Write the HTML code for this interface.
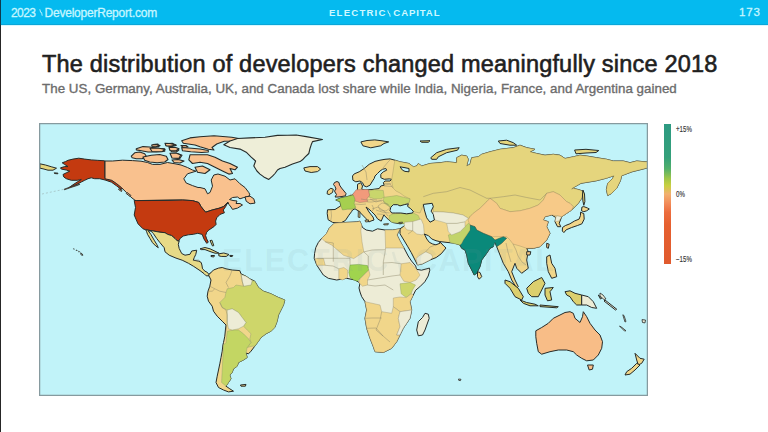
<!DOCTYPE html>
<html><head><meta charset="utf-8">
<style>
html,body{margin:0;padding:0;}
body{width:768px;height:432px;overflow:hidden;background:#fff;position:relative;font-family:"Liberation Sans",sans-serif;}
#hdr{position:absolute;left:0;top:0;width:768px;height:25px;background:linear-gradient(#05baef 0,#05baef 24px,#0aa6d8 24px,#0aa6d8 25px);box-shadow:0 1px 0 #d6f7ff;}
#hdr .l{position:absolute;left:11px;top:5.5px;font-size:12px;letter-spacing:-0.6px;-webkit-text-stroke:0.3px #c6f6ff;color:#c6f6ff;white-space:nowrap;}
#hdr .l2{position:absolute;left:44.5px;top:5.5px;font-size:12px;letter-spacing:-0.22px;-webkit-text-stroke:0.3px #c6f6ff;color:#c6f6ff;white-space:nowrap;}
#hdr .c{position:absolute;left:329px;top:7.4px;font-size:9.6px;font-weight:bold;letter-spacing:1.2px;color:#d0f8ff;white-space:nowrap;}
#hdr .c2{position:absolute;left:393.3px;top:7.4px;font-size:9.6px;font-weight:bold;letter-spacing:0.9px;color:#d0f8ff;white-space:nowrap;}
#hdr .r{position:absolute;left:739px;top:5.5px;font-size:11.5px;letter-spacing:0.8px;-webkit-text-stroke:0.3px #c6f6ff;color:#c6f6ff;}
#title{position:absolute;left:42px;top:51px;font-size:23.5px;letter-spacing:0.19px;font-weight:normal;-webkit-text-stroke:0.6px #1f1f1f;color:#1f1f1f;white-space:nowrap;}
#sub{position:absolute;left:42px;top:80.5px;font-size:13.35px;letter-spacing:0.03px;-webkit-text-stroke:0.35px #6c6c6c;color:#6c6c6c;white-space:nowrap;}
#map{position:absolute;left:39px;top:123px;width:609px;height:273px;}
#cbar{position:absolute;left:664px;top:124px;width:7px;height:140px;background:linear-gradient(#2d9a82 0%,#34a07a 24%,#52b06a 32%,#a0c648 39%,#c8d040 44%,#f2b070 50%,#f28a58 57%,#ec6d3e 63%,#e6602f 72%,#e05a2e 100%);}
.lab{position:absolute;left:676px;font-size:8.5px;line-height:9px;color:#333;-webkit-text-stroke:0.15px #333;white-space:nowrap;transform:scaleX(0.72);transform-origin:0 0;}
</style></head>
<body>
<div id="hdr"><span class="l">2023</span><svg class="bolt" style="position:absolute;left:38.5px;top:9px" width="4" height="7" viewBox="0 0 4 7"><path d="M0.8,0.3 L1.6,3.3 L2.6,3.5 L3.2,6.7" fill="none" stroke="#c6f6ff" stroke-width="0.9"/></svg><span class="l2">DeveloperReport.com</span><span class="c">ELECTRIC</span><svg style="position:absolute;left:386.5px;top:10px" width="4" height="7" viewBox="0 0 4 7"><path d="M0.8,0.3 L1.6,3.3 L2.6,3.5 L3.2,6.7" fill="none" stroke="#c6f6ff" stroke-width="1"/></svg><span class="c2">CAPITAL</span><span class="r">173</span></div>
<div id="title">The distribution of developers changed meaningfully since 2018</div>
<div id="sub">The US, Germany, Australia, UK, and Canada lost share while India, Nigeria, France, and Argentina gained</div>
<svg id="map" width="609" height="273" viewBox="39 123 609 273">
<defs><clipPath id="cp"><rect x="40" y="124" width="607" height="271"/></clipPath></defs>
<rect x="39" y="123" width="609" height="273" fill="#c1f3f9"/>
<g clip-path="url(#cp)" stroke-linejoin="round">
<path d="M68.0,160.3 73.0,159.1 78.8,158.2 84.7,159.1 91.3,159.9 97.2,160.3 104.7,160.8 105.1,178.2 111.7,179.8 116.7,183.0 121.0,186.8 122.5,188.8 121.0,189.2 116.5,185.8 111.5,182.2 105.1,180.0 99.7,178.7 94.7,178.7 91.3,177.8 88.0,178.7 84.7,180.3 81.3,182.0 78.0,183.7 74.7,185.3 70.5,187.0 68.8,187.8 72.2,185.3 77.2,182.0 81.3,179.5 77.2,180.3 71.3,180.3 66.3,178.7 63.8,177.0 63.0,174.5 66.3,172.8 69.7,171.2 66.3,170.0 61.3,169.1 60.5,167.8 64.7,166.6 68.0,166.6 64.7,164.5 62.2,162.8 65.5,161.6Z" fill="#c43a10" stroke="#262b29" stroke-width="1.0"/>
<path d="M39.9,163.8 45.5,165.0 51.8,166.9 56.5,168.2 53.0,170.2 48.0,170.2 43.0,168.8 39.9,168.2Z" fill="#e5d57d" stroke="#262b29" stroke-width="1.0"/>
<path d="M54.2,172.8 58.0,173.2 57.8,173.8 54.5,173.5Z" fill="#e5d57d" stroke="#262b29" stroke-width="1.0"/>
<path d="M131.3,156.2 134.7,152.8 139.7,152.0 144.7,153.7 146.3,156.2 142.2,158.7 136.3,158.7 132.2,157.8Z" fill="#f9c18e" stroke="#262b29" stroke-width="1.1"/>
<path d="M143.0,157.0 151.3,155.3 159.7,154.5 166.3,156.2 168.0,159.5 164.7,162.0 157.2,162.8 149.7,162.0 144.7,160.3Z" fill="#f9c18e" stroke="#262b29" stroke-width="1.1"/>
<path d="M136.3,148.7 143.0,146.6 149.7,147.0 156.3,148.3 164.7,148.7 164.7,151.2 156.3,152.0 148.0,152.0 141.3,150.8 136.3,149.9Z" fill="#f9c18e" stroke="#262b29" stroke-width="1.1"/>
<path d="M153.0,144.5 158.0,144.1 158.8,146.6 153.8,147.0Z" fill="#f9c18e" stroke="#262b29" stroke-width="1.1"/>
<path d="M165.5,143.7 172.2,143.2 176.3,145.3 171.3,146.6 166.3,145.8Z" fill="#f9c18e" stroke="#262b29" stroke-width="1.1"/>
<path d="M169.7,148.7 175.5,148.2 178.8,150.0 176.3,152.0 171.3,151.6Z" fill="#f9c18e" stroke="#262b29" stroke-width="1.1"/>
<path d="M171.3,154.5 178.0,153.7 182.0,155.3 179.7,158.7 173.0,157.8Z" fill="#f9c18e" stroke="#262b29" stroke-width="1.1"/>
<path d="M172.0,160.0 178.0,159.5 184.0,161.0 180.0,163.0 174.0,162.5Z" fill="#f9c18e" stroke="#262b29" stroke-width="1.1"/>
<path d="M151.7,145.0 156.0,144.5 160.0,145.6 156.0,146.8 152.0,146.5Z" fill="#f9c18e" stroke="#262b29" stroke-width="1.1"/>
<path d="M165.0,143.3 170.0,143.5 175.8,145.0 171.0,146.0 166.0,145.8Z" fill="#f9c18e" stroke="#262b29" stroke-width="1.1"/>
<path d="M169.0,147.5 175.0,147.3 179.0,148.8 176.0,150.8 170.0,150.5Z" fill="#f9c18e" stroke="#262b29" stroke-width="1.1"/>
<path d="M170.0,153.3 176.0,153.0 180.8,155.0 179.0,158.3 172.0,158.0Z" fill="#f9c18e" stroke="#262b29" stroke-width="1.1"/>
<path d="M150.0,148.3 158.0,148.0 165.0,149.5 162.0,151.7 152.0,151.5Z" fill="#f9c18e" stroke="#262b29" stroke-width="1.1"/>
<path d="M181.0,145.5 186.0,145.5 188.0,147.0 183.0,147.2Z" fill="#f9c18e" stroke="#262b29" stroke-width="1.1"/>
<path d="M181.7,140.8 190.0,137.9 200.0,136.7 214.0,135.8 231.7,137.2 238.8,138.5 232.5,141.0 224.2,141.3 216.7,144.0 212.0,147.5 214.0,150.0 208.3,149.2 200.0,146.7 195.0,145.0 183.3,143.3Z" fill="#f9c18e" stroke="#262b29" stroke-width="1.1"/>
<path d="M181.7,147.5 191.7,148.3 200.0,149.0 208.3,150.5 208.3,152.0 201.7,152.5 190.8,151.7 182.5,150.8Z" fill="#f9c18e" stroke="#262b29" stroke-width="1.1"/>
<path d="M190.0,154.8 200.0,154.8 207.5,154.8 215.0,157.2 222.5,161.0 230.0,163.5 237.5,167.2 235.0,169.8 230.0,168.5 232.5,173.5 228.8,174.1 222.5,171.0 217.5,168.5 212.5,166.0 207.5,163.5 200.0,162.2 192.5,163.5 188.8,159.8Z" fill="#f9c18e" stroke="#262b29" stroke-width="1.1"/>
<path d="M195.0,167.2 202.5,166.0 210.0,169.8 205.0,173.5 197.5,172.2Z" fill="#f9c18e" stroke="#262b29" stroke-width="1.1"/>
<path d="M237.5,138.5 250.0,137.9 265.0,137.2 277.5,135.4 287.5,135.2 296.2,135.0 306.2,136.6 322.5,139.5 312.5,141.6 311.2,144.8 310.0,148.5 308.8,153.5 305.0,157.2 302.5,159.8 300.0,161.6 292.5,164.1 285.0,167.2 280.0,168.5 277.5,170.0 275.0,173.5 272.5,176.2 268.8,179.4 263.8,176.9 260.0,174.1 256.9,171.0 253.8,166.0 255.6,161.0 251.2,157.2 246.2,152.2 240.0,149.1 230.0,147.5 223.8,144.8 230.0,141.0Z" fill="#eeeed8" stroke="#262b29" stroke-width="1.1"/>
<path d="M303.8,167.9 310.0,166.6 317.5,166.6 320.6,169.1 317.5,171.6 311.2,172.5 305.0,171.0Z" fill="#f1d68a" stroke="#262b29" stroke-width="1.0"/>
<path d="M360.9,141.9 367.0,140.5 374.8,139.9 382.0,140.8 388.7,141.9 384.0,143.5 380.7,145.8 370.8,147.8 362.9,145.8Z" fill="#f1d68a" stroke="#262b29" stroke-width="1.0"/>
<path d="M105.0,161.0 112.5,161.0 122.5,160.2 132.5,160.6 141.0,161.2 147.5,162.5 152.5,164.4 160.0,164.4 167.5,162.5 175.0,163.8 181.0,165.0 187.5,167.5 192.5,170.0 196.0,171.2 187.5,173.8 183.8,178.8 186.2,183.0 192.5,185.6 198.0,187.5 200.0,187.5 205.0,188.8 207.5,193.8 210.0,192.5 212.5,186.2 211.2,180.0 213.8,175.0 218.0,174.0 225.0,176.2 230.0,180.0 235.0,178.8 240.0,183.8 245.0,187.5 248.8,192.5 250.0,195.0 247.5,197.0 243.8,197.5 240.0,198.8 237.5,197.0 232.5,197.5 229.5,199.5 233.0,200.5 237.0,201.0 236.0,203.5 240.0,203.5 242.5,205.0 237.5,208.1 232.5,209.4 231.0,207.0 229.0,204.5 227.8,202.2 223.3,206.7 218.9,208.3 212.2,210.0 205.6,212.2 201.1,206.7 198.8,202.5 192.5,200.6 182.5,200.0 170.0,200.0 136.2,200.6 135.0,200.3 130.8,197.0 126.7,192.8 121.7,187.8 116.7,183.7 111.7,180.3 105.0,178.8Z" fill="#f9c18e" stroke="#262b29" stroke-width="1.0"/>
<path d="M245.0,196.9 250.0,196.2 253.8,198.8 255.0,203.1 250.0,203.8 246.2,201.2Z" fill="#f9c18e" stroke="#262b29" stroke-width="1.0"/>
<path d="M134.2,200.4 136.2,200.6 170.0,200.4 182.5,200.0 192.5,200.6 198.8,202.5 201.1,206.7 205.6,212.2 212.2,210.0 218.9,208.3 223.3,206.7 227.8,203.3 227.8,202.2 225.6,206.7 223.3,210.0 224.4,212.8 220.0,214.4 216.7,217.8 215.6,221.1 216.1,224.4 213.9,226.7 208.9,230.0 206.7,232.2 205.6,235.6 206.7,238.9 208.3,242.2 206.7,243.3 203.9,238.9 202.2,234.4 197.8,233.3 193.3,234.3 188.3,234.8 183.3,236.0 180.0,238.5 179.2,240.6 177.5,241.0 175.0,238.5 171.7,235.6 167.5,234.3 165.0,232.7 160.0,232.2 153.3,231.0 145.8,229.8 143.0,228.8 138.0,223.8 134.2,215.0 135.5,207.5Z" fill="#c43a10" stroke="#262b29" stroke-width="1.0"/>
<path d="M127.0,192.5 131.0,195.5 130.3,196.6 126.2,193.5Z" fill="#f9c18e" stroke="#262b29" stroke-width="0.9"/>
<path d="M119.0,188.5 122.0,190.5 121.5,191.5 118.5,189.5Z" fill="#f9c18e" stroke="#262b29" stroke-width="0.9"/>
<path d="M145.8,229.8 153.3,231.0 160.0,232.2 165.0,232.7 167.5,234.3 171.7,235.6 175.0,238.5 177.5,241.0 179.2,241.0 178.3,244.3 179.2,248.5 181.7,253.5 185.0,255.2 190.0,254.3 191.7,251.0 196.7,250.2 195.8,254.3 194.2,257.7 193.3,260.2 198.8,261.2 201.2,262.5 201.9,265.0 202.5,268.8 205.0,271.2 207.5,272.5 208.8,274.4 210.6,273.1 213.1,272.2 215.0,271.5 215.6,274.4 211.9,276.5 210.4,275.8 206.2,275.8 204.1,273.7 200.0,270.6 193.7,266.4 188.5,263.3 182.2,260.2 176.0,258.1 169.2,255.2 165.0,251.8 164.2,247.7 160.0,242.7 156.7,238.5 153.3,233.5 150.8,231.0 148.3,231.0 150.8,234.3 154.2,240.2 156.7,244.3 158.3,247.7 155.8,246.0 152.5,242.7 150.0,238.5 147.5,234.3 146.7,231.8Z" fill="#e7da87" stroke="#262b29" stroke-width="1.0"/>
<path d="M200.0,248.8 205.0,247.5 210.0,248.8 215.0,251.2 219.0,253.2 215.0,253.2 210.0,251.5 205.0,249.6 201.2,249.6Z" fill="#e7da87" stroke="#262b29" stroke-width="1.0"/>
<path d="M218.8,253.8 223.8,253.0 229.0,254.5 226.2,256.5 221.2,256.4 218.8,255.8Z" fill="#e7da87" stroke="#262b29" stroke-width="1.0"/>
<path d="M211.0,255.5 214.5,255.5 213.8,257.0 211.0,256.5Z" fill="#e7da87" stroke="#262b29" stroke-width="1.0"/>
<path d="M229.8,255.4 232.8,255.5 232.2,256.6 230.0,256.4Z" fill="#e7da87" stroke="#262b29" stroke-width="1.0"/>
<path d="M210.0,240.6 211.9,240.2 213.8,245.6 212.5,246.0Z" fill="#e7da87" stroke="#262b29" stroke-width="1.0"/>
<path d="M208.5,275.0 213.5,270.0 218.5,268.1 222.2,267.5 226.0,268.8 232.2,270.0 239.8,270.6 241.0,273.8 246.0,276.2 249.8,278.8 254.8,281.2 258.5,287.5 263.5,291.2 271.0,293.8 278.5,297.5 284.8,300.0 283.5,305.0 281.0,310.0 278.5,315.0 277.2,321.2 274.8,327.5 271.0,331.2 266.0,333.8 261.0,337.5 258.5,341.2 254.8,346.2 251.0,351.2 248.5,353.8 246.0,353.1 247.2,357.5 243.5,360.0 238.5,362.5 237.2,366.2 233.5,368.8 232.2,372.5 229.8,375.0 231.0,378.8 228.5,382.5 226.0,386.2 229.8,388.8 233.5,391.2 228.5,391.9 223.5,390.0 218.5,387.5 216.0,382.5 217.2,376.2 218.5,370.0 219.8,363.8 221.0,357.5 222.2,351.2 222.9,345.0 223.5,342.5 224.8,336.2 225.4,330.0 226.0,325.0 222.2,321.2 217.2,316.2 213.5,311.2 212.2,306.2 208.5,301.2 207.2,296.2 208.0,291.2 209.8,286.2 211.0,280.0Z" fill="#f1d68a" stroke="#262b29" stroke-width="1.0"/>
<path d="M252.2,280.6 251.0,285.0 243.5,286.2 236.0,285.0 233.5,287.5 227.2,288.8 226.0,292.5 224.8,297.5 219.8,302.5 222.2,307.5 227.2,310.0 232.2,308.8 238.5,312.5 242.2,317.5 246.0,322.5 243.5,326.2 247.2,330.0 251.0,333.8 249.8,338.8 251.0,342.5 247.2,347.5 252.2,346.2 254.8,346.2 258.5,341.2 261.0,337.5 266.0,333.8 271.0,331.2 274.8,327.5 277.2,321.2 278.5,315.0 281.0,310.0 283.5,305.0 284.8,300.0 278.5,297.5 271.0,293.8 263.5,291.2 258.5,287.5 254.8,281.2Z" fill="#ced66a" stroke="#8a9a6a" stroke-width="0.4"/>
<path d="M227.2,331.2 233.5,330.0 238.5,330.0 243.5,333.8 248.5,338.8 251.0,342.5 247.2,347.5 246.0,353.1 247.2,357.5 243.5,360.0 238.5,362.5 237.2,366.2 233.5,368.8 232.2,372.5 229.8,375.0 231.0,378.8 228.5,382.5 226.0,386.2 221.6,382.5 222.2,370.0 222.9,357.5 223.5,345.0 226.0,342.5Z" fill="#c3d663" stroke="#8a9a6a" stroke-width="0.4"/>
<path d="M227.2,310.0 232.2,308.8 238.5,312.5 242.2,317.5 246.0,322.5 243.5,326.2 238.5,328.8 232.2,330.0 228.5,328.8 227.2,322.5 227.2,315.0Z" fill="#edecd6" stroke="#8a9a6a" stroke-width="0.4"/>
<path d="M241.0,274.5 246.0,276.2 252.2,280.6 251.0,285.0 243.5,286.2 242.2,281.2Z" fill="#edecd6" stroke="#8a9a6a" stroke-width="0.4"/>
<path d="M240.4,385.0 246.0,384.4 245.4,386.2 241.0,386.2Z" fill="#f1d68a" stroke="#262b29" stroke-width="1.0"/>
<path d="M328.1,219.7 327.2,213.4 327.5,209.8 335.0,209.5 340.8,205.8 340.0,201.7 335.8,200.0 340.8,197.9 345.0,197.1 350.0,195.8 352.5,195.0 356.7,190.8 357.5,189.3 357.5,184.3 360.8,182.7 362.5,186.0 361.7,189.3 365.0,190.0 372.0,189.5 379.2,188.5 380.8,186.0 384.2,185.2 383.3,182.7 385.0,181.0 390.0,181.0 391.7,179.3 389.2,178.9 384.2,179.3 380.8,177.7 380.8,174.3 383.3,171.8 386.7,170.2 385.8,168.5 382.5,169.3 380.0,171.0 377.5,173.5 375.0,176.0 374.2,178.5 372.5,181.0 370.0,185.2 366.7,186.8 364.2,186.0 362.5,182.7 360.0,181.0 355.8,181.8 352.9,180.2 352.5,176.0 354.2,173.9 359.2,171.8 364.2,168.5 369.2,164.3 375.0,161.4 380.0,160.2 385.0,159.3 390.0,158.9 395.0,160.2 400.0,161.8 405.0,162.7 409.0,163.5 413.3,166.8 416.7,166.0 418.3,163.5 421.7,166.0 430.0,163.5 440.0,162.7 446.7,161.8 456.7,162.7 456.7,157.7 461.7,155.2 466.7,156.0 468.3,159.3 466.7,166.0 470.0,164.3 471.7,157.7 478.3,156.8 481.7,154.3 490.0,151.8 500.0,149.3 513.3,147.7 520.0,145.2 526.7,147.7 535.0,149.3 530.0,151.8 536.7,153.5 545.0,155.2 553.3,154.3 560.0,155.2 565.0,158.5 573.3,156.8 580.0,155.2 586.7,156.0 596.7,157.7 606.7,159.3 613.3,161.0 623.3,161.0 630.0,162.7 636.7,161.0 645.0,161.8 653.0,161.8 653.0,167.5 647.0,168.0 642.0,169.3 632.0,171.8 621.7,175.7 620.4,180.8 616.6,188.4 611.5,193.5 607.7,195.5 606.4,189.7 607.7,183.3 612.8,178.2 614.0,175.7 606.4,178.2 596.2,180.8 581.0,183.3 572.0,188.4 571.7,189.3 573.3,188.3 580.0,190.0 583.3,191.7 581.7,198.3 578.3,203.3 571.7,210.0 566.7,213.3 561.7,216.7 559.2,223.3 560.8,226.7 557.5,226.7 555.0,221.7 555.8,217.5 551.7,215.0 545.0,216.7 543.3,220.0 548.3,221.7 546.7,226.7 550.0,233.3 546.7,240.0 540.0,246.7 533.3,248.3 526.7,248.3 528.3,251.7 526.7,260.0 528.3,268.3 521.7,273.3 516.7,268.3 515.0,263.3 511.7,271.7 515.0,280.0 518.3,286.7 516.7,288.3 511.7,280.0 508.3,271.7 503.3,263.3 500.0,255.0 496.7,246.7 495.0,242.5 490.0,241.7 493.3,246.7 490.0,248.3 486.7,253.3 481.7,260.0 480.0,266.7 476.7,273.3 474.2,275.0 471.7,270.0 468.3,263.3 466.7,255.0 465.0,250.0 461.7,248.3 460.0,245.0 454.3,243.2 446.0,242.3 439.3,241.5 441.0,243.0 443.8,246.0 446.0,248.0 441.2,253.8 436.2,257.5 430.0,260.0 422.5,263.8 417.5,265.0 415.0,260.0 411.2,252.5 407.5,246.2 403.8,240.0 400.0,233.8 400.0,228.8 403.8,226.2 407.5,222.5 400.0,223.8 392.5,222.5 388.8,220.0 383.8,215.0 381.2,221.2 377.5,218.8 375.0,215.0 370.0,210.0 366.0,207.0 369.0,212.0 373.0,217.0 374.0,220.0 371.0,221.0 368.8,222.0 366.2,218.8 362.5,215.0 358.8,211.2 355.0,208.8 352.5,210.0 351.6,211.6 348.9,215.2 345.3,220.6 339.9,223.3 332.6,222.4Z" fill="#f1d68a" stroke="#262b29" stroke-width="1.0"/>
<path d="M395.0,160.2 400.0,161.8 405.0,162.7 409.0,163.5 413.3,166.8 416.7,166.0 418.3,163.5 421.7,166.0 430.0,163.5 440.0,162.7 446.7,161.8 456.7,162.7 456.7,157.7 461.7,155.2 466.7,156.0 468.3,159.3 466.7,166.0 470.0,164.3 471.7,157.7 478.3,156.8 481.7,154.3 490.0,151.8 500.0,149.3 513.3,147.7 520.0,145.2 526.7,147.7 535.0,149.3 530.0,151.8 536.7,153.5 545.0,155.2 553.3,154.3 560.0,155.2 565.0,158.5 573.3,156.8 580.0,155.2 586.7,156.0 596.7,157.7 606.7,159.3 613.3,161.0 623.3,161.0 630.0,162.7 636.7,161.0 645.0,161.8 653.0,161.8 653.0,167.5 647.0,168.0 642.0,169.3 632.0,171.8 621.7,175.7 620.4,180.8 616.6,188.4 611.5,193.5 607.7,195.5 606.4,189.7 607.7,183.3 612.8,178.2 614.0,175.7 606.4,178.2 596.2,180.8 581.0,183.3 572.0,188.4 571.7,189.3 573.3,188.3 580.0,190.0 583.3,191.7 581.7,198.3 578.3,203.3 571.7,210.0 566.7,213.3 561.7,216.7 566.7,213.3 571.7,210.0 573.3,206.7 570.0,203.3 566.7,201.7 560.0,195.0 553.3,191.7 546.7,193.3 543.3,200.0 538.3,205.0 530.0,208.3 520.0,210.8 510.0,211.7 500.0,208.3 496.7,203.3 490.0,198.3 486.7,201.7 480.0,208.3 473.3,213.3 470.0,216.7 468.3,218.3 463.0,215.0 453.3,213.0 443.3,212.0 433.3,211.7 433.3,208.3 431.7,203.3 423.3,205.0 420.0,213.0 415.0,212.0 413.3,211.3 410.8,208.8 407.5,206.3 408.3,203.8 409.2,202.2 410.0,198.8 408.0,198.0 404.0,196.0 400.0,193.0 396.0,191.0 393.0,188.0 392.0,183.0 391.7,179.3 393.0,172.0 394.0,165.0Z" fill="#e5d57d" stroke="#9a9060" stroke-width="0.4"/>
<path d="M470.0,216.7 473.3,213.3 480.0,208.3 486.7,201.7 490.0,198.3 496.7,203.3 500.0,208.3 510.0,211.7 520.0,210.8 530.0,208.3 538.3,205.0 543.3,200.0 546.7,193.3 553.3,191.7 560.0,195.0 566.7,201.7 570.0,203.3 573.3,206.7 571.7,210.0 566.7,213.3 561.7,216.7 556.7,215.8 551.7,215.0 545.0,216.7 543.3,220.0 548.3,221.7 546.7,226.7 550.0,233.3 546.7,240.0 540.0,246.7 533.3,248.3 526.7,248.3 520.0,246.0 513.0,244.0 510.0,240.0 506.7,236.7 503.3,236.7 500.0,236.7 491.7,236.7 483.3,233.3 476.7,230.0 475.0,226.7 470.0,225.0 468.0,220.0Z" fill="#f7ca88" stroke="#9a8a60" stroke-width="0.4"/>
<path d="M561.7,216.7 556.7,215.8 555.8,217.5 555.0,221.7 559.2,221.0 560.5,218.5Z" fill="#edecd6" stroke="#9a8a60" stroke-width="0.4"/>
<path d="M470.0,225.0 475.0,226.7 476.7,230.0 483.3,233.3 491.7,236.7 495.0,240.0 503.3,236.7 506.7,238.3 501.7,243.3 496.7,246.7 495.0,242.5 493.3,246.7 490.0,248.3 486.7,253.3 481.7,260.0 480.0,266.7 476.7,273.3 474.2,275.0 471.7,270.0 468.3,263.3 466.7,255.0 465.0,250.0 461.7,248.3 460.0,245.0 461.7,243.3 463.3,240.0 466.7,235.0 470.0,230.0Z" fill="#0a897a" stroke="#2a4a40" stroke-width="0.5"/>
<path d="M448.3,235.0 460.0,231.7 465.0,226.7 468.3,223.3 470.0,225.0 470.0,230.0 466.7,235.0 463.3,240.0 461.7,243.3 460.0,245.0 455.0,243.8 450.0,242.5Z" fill="#c2d46a" stroke="#8a9a60" stroke-width="0.4"/>
<path d="M446.7,223.3 456.7,223.3 465.0,221.7 465.0,226.7 460.0,231.7 451.7,235.0 448.3,231.7Z" fill="#edecd6" stroke="#9a9a80" stroke-width="0.4"/>
<path d="M433.3,211.7 443.3,212.0 453.3,213.0 463.0,215.0 468.3,218.3 465.0,221.7 456.7,223.3 446.7,223.3 441.7,221.7 435.0,220.0 432.0,216.0Z" fill="#edecd6" stroke="#9a9a80" stroke-width="0.4"/>
<path d="M389.2,215.5 393.3,213.8 401.7,213.4 406.7,214.3 413.3,213.0 418.3,215.5 420.0,219.7 418.3,223.0 410.0,223.0 403.3,223.8 397.5,223.0 391.7,222.2 389.2,219.7Z" fill="#c4d56a" stroke="#8a9a60" stroke-width="0.4"/>
<path d="M368.3,191.3 374.2,189.7 383.3,190.5 384.2,197.2 380.8,198.8 374.2,198.8 369.2,197.2Z" fill="#c9d66c" stroke="#8a9a60" stroke-width="0.4"/>
<path d="M384.2,197.2 391.7,196.3 396.7,195.5 403.3,197.2 410.0,198.8 409.2,202.2 404.2,204.7 400.0,205.9 397.5,204.7 393.3,204.7 390.8,207.2 387.5,205.5 384.2,203.0 383.3,199.7Z" fill="#c6d66b" stroke="#8a9a60" stroke-width="0.4"/>
<path d="M352.5,194.4 356.1,189.8 361.5,189.6 368.3,189.5 369.6,195.3 366.9,198.9 367.8,201.6 359.7,202.5 354.3,200.7 353.4,197.1Z" fill="#f29a7b" stroke="#8a6a5a" stroke-width="0.4"/>
<path d="M335.8,200.0 340.8,197.9 345.0,197.1 350.0,195.8 353.3,195.0 355.0,199.2 354.2,203.3 355.8,207.5 351.7,209.2 347.5,209.2 342.5,210.0 340.8,205.8 340.0,201.7Z" fill="#a6cf4f" stroke="#6a8a50" stroke-width="0.4"/>
<path d="M390.8,207.2 393.3,204.7 397.5,204.7 400.0,205.9 404.2,204.7 408.3,203.8 407.5,206.3 410.8,208.8 413.3,211.3 412.5,213.0 406.7,213.8 400.8,213.0 395.8,213.0 391.7,213.0 390.0,210.5Z" fill="#c1f3f9" stroke="#262b29" stroke-width="1.0"/>
<path d="M423.3,204.4 432.2,203.3 433.3,206.7 431.1,211.1 433.3,214.4 434.4,220.0 430.0,222.2 426.7,217.8 424.4,210.0Z" fill="#c1f3f9" stroke="#262b29" stroke-width="1.0"/>
<path d="M404.3,222.3 412.7,221.5 421.0,219.0 423.5,224.8 424.3,234.0 421.8,234.8 416.8,234.0 412.7,230.7 406.8,229.8 404.3,226.5Z" fill="#edecd6" stroke="#9a9070" stroke-width="0.4"/>
<path d="M417.5,265.0 422.5,263.8 430.0,260.0 432.8,257.2 431.4,254.4 425.8,251.7 418.9,255.8 416.1,258.6Z" fill="#edecd6" stroke="#9a9070" stroke-width="0.4"/>
<path d="M424.3,234.0 428.5,235.7 431.8,239.0 436.0,240.7 439.3,241.5 440.0,243.2 436.0,244.8 432.7,244.0 429.3,242.3 426.8,239.0Z" fill="#c1f3f9" stroke="#262b29" stroke-width="1.0"/>
<path d="M400.0,166.8 405.0,167.7 409.0,168.5 409.0,171.8 405.0,171.4 402.5,170.2Z" fill="#c1f3f9" stroke="#262b29" stroke-width="1.0"/>
<path d="M334.5,182.5 337.0,181.5 339.0,182.5 339.5,185.0 341.5,188.0 344.0,191.0 346.0,193.5 345.5,195.8 342.0,196.5 338.0,197.0 335.0,197.0 336.5,194.5 335.5,193.0 334.5,191.0 336.0,189.0 335.0,186.5 333.5,184.5Z" fill="#f5b78a" stroke="#262b29" stroke-width="1.0"/>
<path d="M327.5,190.8 330.8,188.3 333.3,189.2 332.5,192.5 329.2,194.6 327.1,193.8Z" fill="#f1d68a" stroke="#262b29" stroke-width="1.0"/>
<path d="M334.2,223.3 343.8,222.5 356.2,221.9 360.0,221.2 362.5,227.5 366.2,230.0 372.5,231.2 377.5,228.8 385.0,230.0 392.5,230.0 400.0,228.8 397.0,235.0 400.0,241.0 404.0,248.0 408.2,256.0 411.5,261.0 415.7,266.0 416.5,269.3 421.5,270.2 429.4,268.1 429.8,270.2 428.2,276.0 424.8,281.8 419.8,286.8 415.7,290.2 413.3,295.0 410.0,301.7 411.7,310.0 410.0,318.3 406.7,323.3 403.3,328.3 400.0,335.0 396.7,341.7 391.7,348.3 383.3,352.5 375.0,351.7 373.3,346.7 370.0,338.3 366.7,328.3 365.0,318.3 366.7,310.0 365.0,301.7 361.7,296.7 360.0,292.0 359.0,288.0 360.0,283.0 355.0,280.0 346.7,278.3 336.7,280.0 328.3,278.3 323.3,275.0 320.0,270.0 316.7,265.0 314.2,258.3 314.6,253.3 315.8,247.5 318.3,242.5 321.7,238.3 326.7,233.3 329.2,228.3Z" fill="#edecd6" stroke="#262b29" stroke-width="1.0"/>
<path d="M334.2,223.3 343.8,222.5 356.2,221.9 360.0,221.2 361.7,225.0 360.8,230.8 362.0,241.8 363.8,251.9 353.7,258.6 343.6,255.3 331.9,245.2 325.2,241.8 321.7,238.3 326.7,233.3 329.2,228.3Z" fill="#f1d68a" stroke="#9a9070" stroke-width="0.4"/>
<path d="M315.1,258.6 323.5,258.6 325.2,265.3 316.8,265.3Z" fill="#f1d68a" stroke="#9a9070" stroke-width="0.4"/>
<path d="M385.0,230.0 392.5,230.0 400.0,228.8 397.0,235.0 400.0,241.0 404.0,248.0 401.2,248.0 385.6,248.0Z" fill="#f1d68a" stroke="#9a9070" stroke-width="0.4"/>
<path d="M401.2,263.8 410.0,262.5 416.2,268.8 420.0,275.0 416.2,280.0 410.0,282.5 403.8,281.2 400.0,275.0Z" fill="#f1d68a" stroke="#9a9070" stroke-width="0.4"/>
<path d="M400.0,283.8 410.0,282.5 415.5,285.0 412.5,290.0 411.2,293.8 406.2,297.5 401.2,293.8Z" fill="#ced66a" stroke="#8a9a60" stroke-width="0.4"/>
<path d="M400.0,297.0 406.2,297.5 411.2,293.8 413.3,295.0 410.0,301.7 411.7,310.0 400.0,311.7 393.3,306.7 393.3,298.0Z" fill="#f1d68a" stroke="#9a9070" stroke-width="0.4"/>
<path d="M365.0,301.7 380.0,305.0 381.7,311.7 391.7,313.3 393.3,306.7 400.0,311.7 398.3,318.3 400.0,326.7 396.7,335.0 400.0,335.0 396.7,341.7 391.7,348.3 383.3,352.5 375.0,351.7 373.3,346.7 370.0,338.3 366.7,328.3 365.0,318.3 366.7,310.0Z" fill="#f1d68a" stroke="#9a9070" stroke-width="0.4"/>
<path d="M400.0,311.7 411.7,310.0 410.0,318.3 406.7,323.3 403.3,328.3 400.0,335.0 396.7,335.0 400.0,326.7 398.3,318.3Z" fill="#edecd6" stroke="#9a9070" stroke-width="0.4"/>
<path d="M350.0,265.0 358.8,264.4 367.5,265.6 368.8,270.0 365.0,273.8 360.0,278.8 357.5,281.2 353.8,280.0 350.0,277.5 348.8,272.5Z" fill="#a0d44e" stroke="#5a8a40" stroke-width="0.4"/>
<path d="M360.0,278.8 365.0,273.8 368.8,270.0 370.0,275.0 367.5,280.0 367.5,285.0 362.5,286.2 358.8,282.5Z" fill="#f1d68a" stroke="#9a9070" stroke-width="0.4"/>
<path d="M338.8,268.8 343.8,267.5 347.5,270.0 347.5,277.5 342.5,280.0 338.8,278.8Z" fill="#f1d68a" stroke="#9a9070" stroke-width="0.4"/>
<path d="M425.0,313.3 428.3,314.2 429.2,318.3 425.0,330.0 422.5,335.0 418.3,335.8 416.7,330.0 418.3,321.7 422.5,317.5Z" fill="#edecd6" stroke="#262b29" stroke-width="1.0"/>
<path d="M535.8,330.8 541.7,327.5 548.3,323.3 553.3,318.3 560.0,315.0 565.0,312.5 570.0,311.7 573.3,313.3 575.0,318.3 580.0,322.5 582.5,316.7 583.3,311.7 586.7,316.7 590.0,323.3 595.0,330.0 600.0,335.0 602.5,341.7 601.7,348.3 598.3,355.0 593.3,360.0 586.7,360.8 581.7,358.3 576.7,355.0 573.3,351.7 566.7,350.0 558.3,350.0 550.0,351.7 541.7,354.2 538.3,351.7 536.7,343.3 535.8,336.7Z" fill="#f8bd87" stroke="#262b29" stroke-width="1.0"/>
<path d="M587.5,365.0 593.3,365.0 592.5,369.2 589.2,370.0Z" fill="#f8bd87" stroke="#262b29" stroke-width="1.0"/>
<path d="M635.0,353.3 640.0,358.3 644.2,359.2 641.7,363.3 638.3,365.0 636.7,360.0Z" fill="#f1d68a" stroke="#262b29" stroke-width="1.0"/>
<path d="M636.7,363.3 640.0,365.0 635.0,370.0 630.0,374.2 625.0,375.0 626.7,371.7 631.7,368.3Z" fill="#f1d68a" stroke="#262b29" stroke-width="1.0"/>
<path d="M565.0,291.7 570.0,290.8 575.0,293.3 581.7,295.0 581.7,305.0 576.7,305.0 573.3,301.7 570.0,296.7 566.7,295.0Z" fill="#dccf6e" stroke="#262b29" stroke-width="1.0"/>
<path d="M581.7,295.0 588.3,296.7 593.3,301.7 596.7,308.3 591.7,307.5 586.7,305.0 581.7,305.0Z" fill="#edecd6" stroke="#262b29" stroke-width="1.0"/>
<path d="M526.7,288.3 533.3,281.7 541.7,277.5 545.0,283.3 541.7,290.0 538.3,296.7 531.7,296.7 528.3,293.3Z" fill="#dccf6e" stroke="#262b29" stroke-width="1.0"/>
<path d="M545.0,288.3 553.3,287.5 550.0,291.7 551.7,300.0 547.5,300.8 545.0,295.0Z" fill="#dccf6e" stroke="#262b29" stroke-width="1.0"/>
<path d="M520.0,300.0 526.7,302.5 535.0,304.2 538.3,305.8 530.0,305.8 523.3,303.3Z" fill="#dccf6e" stroke="#262b29" stroke-width="1.0"/>
<path d="M540.0,305.0 558.3,306.7 556.7,307.8 540.0,306.6Z" fill="#dccf6e" stroke="#262b29" stroke-width="1.0"/>
<path d="M505.0,280.0 510.0,281.7 518.3,288.3 523.3,296.7 521.7,300.0 515.0,296.7 510.0,288.3 505.0,283.3Z" fill="#dccf6e" stroke="#262b29" stroke-width="1.0"/>
<path d="M546.7,256.7 550.0,255.0 551.7,263.3 555.0,268.3 556.7,276.7 551.7,278.3 548.3,271.7 546.7,263.3Z" fill="#f1d68a" stroke="#262b29" stroke-width="1.0"/>
<path d="M477.5,271.7 480.0,272.5 481.7,276.7 479.2,279.2 477.5,276.7Z" fill="#f1d68a" stroke="#262b29" stroke-width="1.0"/>
<path d="M526.7,251.7 530.8,251.7 530.0,255.0 526.7,255.0Z" fill="#f7ca88" stroke="#262b29" stroke-width="1.0"/>
<path d="M546.7,243.3 549.2,244.2 548.3,248.3 546.7,247.5Z" fill="#f7ca88" stroke="#262b29" stroke-width="1.0"/>
<path d="M581.9,207.1 583.8,206.6 587.5,208.0 589.3,209.0 586.6,210.8 583.8,211.7 581.5,210.8Z" fill="#f1d68a" stroke="#262b29" stroke-width="1.0"/>
<path d="M580.5,212.2 583.8,213.6 584.2,219.1 581.9,223.8 577.3,225.6 571.7,227.5 566.2,229.8 563.9,232.6 562.3,231.0 562.5,227.5 565.3,225.6 569.9,223.8 574.5,221.0 579.1,219.1 580.5,215.4Z" fill="#f1d68a" stroke="#262b29" stroke-width="1.0"/>
<path d="M582.9,190.0 584.5,194.0 584.9,201.6 583.8,205.3 582.9,201.0 582.5,195.0Z" fill="#e5d57d" stroke="#262b29" stroke-width="1.0"/>
<path d="M430.8,157.7 436.7,152.7 446.7,149.3 459.2,147.7 457.5,150.2 446.7,152.7 438.3,156.8 436.7,159.3 431.7,159.3Z" fill="#e5d57d" stroke="#262b29" stroke-width="1.0"/>
<path d="M420.0,141.0 430.0,140.7 428.3,142.3 421.7,142.3Z" fill="#e5d57d" stroke="#262b29" stroke-width="1.0"/>
<path d="M498.3,141.0 506.7,140.2 513.3,142.7 516.7,145.2 510.0,145.2 500.0,143.5Z" fill="#e5d57d" stroke="#262b29" stroke-width="1.0"/>
<path d="M574.6,150.0 586.0,149.3 598.8,150.5 596.0,152.5 586.0,153.0 576.0,153.8Z" fill="#e5d57d" stroke="#262b29" stroke-width="1.0"/>
<path d="M598.3,295.0 601.7,298.3 600.5,299.0Z" fill="#edecd6" stroke="#262b29" stroke-width="1.0"/>
<path d="M605.0,300.0 616.7,309.2 615.5,310.0 604.0,301.0Z" fill="#edecd6" stroke="#262b29" stroke-width="1.0"/>
<path d="M73.5,248.6 74.3,248.9 74.0,249.4Z" fill="#edecd6" stroke="#2f3835" stroke-width="0.7"/>
<path d="M76.0,250.0 77.2,250.4 76.6,251.0Z" fill="#edecd6" stroke="#2f3835" stroke-width="0.7"/>
<path d="M78.5,251.2 79.6,251.6 79.0,252.2Z" fill="#edecd6" stroke="#2f3835" stroke-width="0.7"/>
<path d="M80.6,252.8 82.4,254.0 82.8,255.4 81.2,255.0Z" fill="#edecd6" stroke="#2f3835" stroke-width="0.9"/>
<path d="M64.0,189.3 70.0,187.0 75.0,185.5 80.0,184.0 79.5,184.6 75.0,186.2 70.0,187.8 64.4,189.8Z" fill="#c43a10" stroke="#2f3835" stroke-width="0.8"/>
<path d="M622.8,314.8 624.0,315.5 626.0,321.5 625.0,322.0Z" fill="#edecd6" stroke="#262b29" stroke-width="0.8"/>
<path d="M619.5,326.0 622.0,327.5 626.0,330.8 624.5,331.0Z" fill="#edecd6" stroke="#262b29" stroke-width="0.8"/>
<path d="M642.0,319.6 645.5,320.0 645.0,322.9 642.5,322.5Z" fill="#edecd6" stroke="#262b29" stroke-width="0.8"/>
<path d="M600.0,293.0 603.0,295.0 606.0,299.0 604.0,299.5 600.0,296.0Z" fill="#edecd6" stroke="#262b29" stroke-width="0.8"/>
<path d="M458.5,379.0 461.0,379.3 460.5,380.6 458.8,380.4Z" fill="#edecd6" stroke="#262b29" stroke-width="0.8"/>
<path d="M358.3,211.0 359.8,211.5 360.0,217.5 358.2,217.2Z" fill="#f1d68a" stroke="#262b29" stroke-width="0.8"/>
<path d="M365.0,220.2 368.8,220.0 367.5,222.0 365.5,221.8Z" fill="#f1d68a" stroke="#262b29" stroke-width="0.8"/>
<path d="M383.5,224.0 388.5,223.6 388.0,224.8 384.0,224.9Z" fill="#f1d68a" stroke="#262b29" stroke-width="0.8"/>
<path d="M398.8,222.5 402.5,222.2 401.8,223.6 399.5,223.5Z" fill="#f1d68a" stroke="#262b29" stroke-width="0.8"/>
<path d="M232.2,270.0 229.8,276.2 226.0,282.5 228.5,287.5" fill="none" stroke="#8a8468" stroke-width="0.45"/>
<path d="M209.8,286.2 214.8,288.8 219.8,291.2 226.0,292.5" fill="none" stroke="#8a8468" stroke-width="0.45"/>
<path d="M208.0,291.2 212.2,291.2 214.8,288.8" fill="none" stroke="#8a8468" stroke-width="0.45"/>
<path d="M241.0,273.8 242.2,281.2 243.5,286.2" fill="none" stroke="#8a8468" stroke-width="0.45"/>
<path d="M219.8,302.5 222.2,307.5 226.0,310.0 227.2,315.0 227.2,322.5 226.0,331.2" fill="none" stroke="#8a8468" stroke-width="0.45"/>
<path d="M201.2,262.5 199.0,260.0 193.8,260.0" fill="none" stroke="#8a8468" stroke-width="0.45"/>
<path d="M325.2,241.8 333.3,243.0 333.3,261.7" fill="none" stroke="#8a8468" stroke-width="0.45"/>
<path d="M316.7,258.3 333.3,258.3 350.0,258.3 350.0,265.0" fill="none" stroke="#8a8468" stroke-width="0.45"/>
<path d="M363.8,251.9 368.3,256.0 368.3,268.0" fill="none" stroke="#8a8468" stroke-width="0.45"/>
<path d="M385.6,248.0 385.0,252.5 383.3,262.0 383.3,275.0" fill="none" stroke="#8a8468" stroke-width="0.45"/>
<path d="M363.8,251.9 372.0,250.0 385.0,249.7" fill="none" stroke="#8a8468" stroke-width="0.45"/>
<path d="M383.3,263.0 392.0,262.5 401.2,263.8" fill="none" stroke="#8a8468" stroke-width="0.45"/>
<path d="M367.5,280.0 380.0,278.0 392.0,276.0 400.0,275.0" fill="none" stroke="#8a8468" stroke-width="0.45"/>
<path d="M367.5,285.0 375.0,286.0 385.0,285.0 393.3,290.0" fill="none" stroke="#8a8468" stroke-width="0.45"/>
<path d="M325.2,265.3 333.0,266.0 338.8,268.8" fill="none" stroke="#8a8468" stroke-width="0.45"/>
<path d="M381.7,311.7 380.0,320.0 376.0,330.0 383.0,336.0 390.0,342.0" fill="none" stroke="#8a8468" stroke-width="0.45"/>
<path d="M366.7,328.3 376.0,328.0 383.0,336.0" fill="none" stroke="#8a8468" stroke-width="0.45"/>
<path d="M365.0,318.3 372.0,318.0 381.7,318.0" fill="none" stroke="#8a8468" stroke-width="0.45"/>
<path d="M423.3,196.7 433.3,193.3 446.7,191.7 460.0,187.5 470.0,190.0 480.0,195.0 486.7,198.3 490.0,198.3" fill="none" stroke="#8a8468" stroke-width="0.45"/>
<path d="M490.0,198.3 503.3,196.7 515.0,195.0 526.7,197.5 540.0,200.0 546.7,193.3" fill="none" stroke="#8a8468" stroke-width="0.45"/>
<path d="M506.0,243.0 508.0,252.0 511.0,262.0" fill="none" stroke="#8a8468" stroke-width="0.45"/>
<path d="M513.0,244.0 516.0,250.0 518.0,256.0 522.0,262.0 526.0,265.0" fill="none" stroke="#8a8468" stroke-width="0.45"/>
<path d="M362.0,165.0 366.0,172.0 367.0,180.0" fill="none" stroke="#8a8468" stroke-width="0.45"/>
<path d="M383.0,168.0 388.0,162.0 391.0,159.0" fill="none" stroke="#8a8468" stroke-width="0.45"/>
<path d="M331.0,210.0 331.5,216.0 330.5,222.0" fill="none" stroke="#8a8468" stroke-width="0.45"/>
<path d="M425.8,251.7 430.0,247.0 436.0,244.8" fill="none" stroke="#8a8468" stroke-width="0.45"/>
<path d="M412.7,221.5 412.7,230.7 408.0,234.0" fill="none" stroke="#8a8468" stroke-width="0.45"/>
<path d="M384.2,185.2 390.0,184.0 393.0,188.0" fill="none" stroke="#8a8468" stroke-width="0.45"/>
<path d="M370.0,199.0 376.0,202.0 382.0,200.0 388.0,205.0" fill="none" stroke="#8a8468" stroke-width="0.45"/>
<path d="M372.0,209.0 378.0,207.0 384.0,211.0 388.0,216.0" fill="none" stroke="#8a8468" stroke-width="0.45"/>
<path d="M361.0,199.0 367.0,200.0 372.0,199.5 377.0,200.0" fill="none" stroke="#8a8468" stroke-width="0.45"/>
<path d="M367.5,202.0 372.0,202.0 377.0,201.0 382.0,201.0" fill="none" stroke="#8a8468" stroke-width="0.45"/>
<path d="M382.0,203.0 388.0,204.0 390.0,208.0 386.0,211.0 380.0,210.0 378.0,206.0 382.0,203.0" fill="none" stroke="#8a8468" stroke-width="0.45"/>
<path d="M376.0,210.0 382.0,212.0 389.5,213.0" fill="none" stroke="#8a8468" stroke-width="0.45"/>
<path d="M377.0,214.0 385.0,214.5" fill="none" stroke="#8a8468" stroke-width="0.45"/>
<path d="M355.0,204.0 361.0,204.5 366.0,204.0" fill="none" stroke="#8a8468" stroke-width="0.45"/>
<path d="M350.0,194.0 352.5,195.5" fill="none" stroke="#8a8468" stroke-width="0.45"/>
<path d="M384.0,186.0 392.0,186.5" fill="none" stroke="#8a8468" stroke-width="0.45"/>
<path d="M384.0,183.3 391.0,183.8" fill="none" stroke="#8a8468" stroke-width="0.45"/>
<path d="M372.0,205.0 374.0,209.0 371.0,212.0" fill="none" stroke="#8a8468" stroke-width="0.45"/>
<path class="aleut-dash" d="M42,194 L63,189.5" stroke="#9ab0b0" stroke-width="0.6" stroke-dasharray="2,2" fill="none"/>
</g>
<g fill="#7a9aa0" fill-opacity="0.11" font-family="Liberation Sans" font-weight="bold" font-size="30.5">
<text x="222" y="271" textLength="166" lengthAdjust="spacing">ELECTRIC</text>
<text x="415" y="271" textLength="139" lengthAdjust="spacing">CAPITAL</text>
<path d="M393,252 L396,262 L399,263 L401,272" fill="none" stroke="#7a9aa0" stroke-opacity="0.11" stroke-width="2.5"/>
</g>
<rect x="39.6" y="123.6" width="607.8" height="271.8" fill="none" stroke="#869a9f" stroke-width="1.3"/>
</svg>
<div id="cbar"></div>
<div id="edge" style="position:absolute;left:0;top:0;width:1px;height:432px;background:linear-gradient(#0d3a4c 0,#0d3a4c 25px,#262626 25px,#262626 100%);"></div>
<div class="lab" style="top:124.5px">+15%</div>
<div class="lab" style="top:189.5px">0%</div>
<div class="lab" style="top:254.5px">−15%</div>
</body></html>
